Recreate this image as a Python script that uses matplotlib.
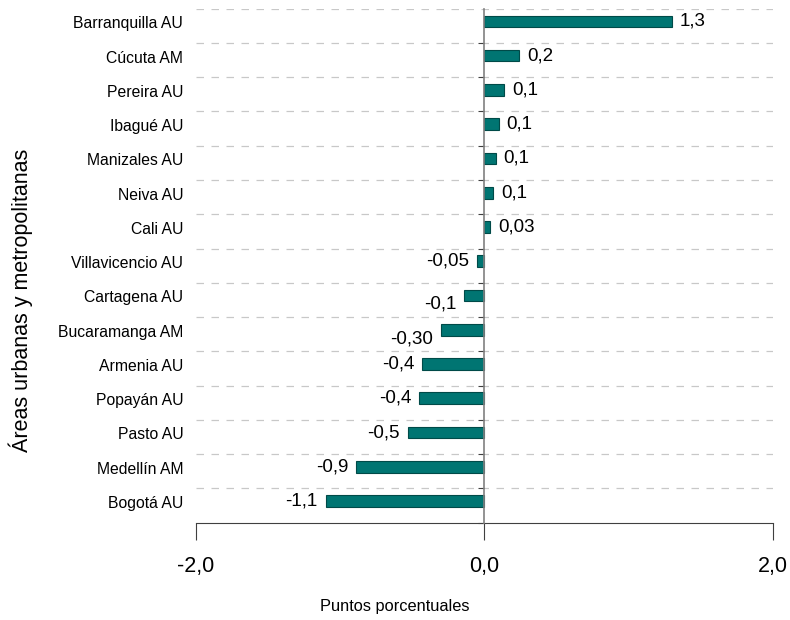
import matplotlib
matplotlib.use('Agg')
import matplotlib.pyplot as plt

plt.rcParams['font.family'] = ['Liberation Sans', 'DejaVu Sans']

areas = ['Barranquilla AU', 'Cúcuta AM', 'Pereira AU', 'Ibagué AU', 'Manizales AU',
         'Neiva AU', 'Cali AU', 'Villavicencio AU', 'Cartagena AU', 'Bucaramanga AM',
         'Armenia AU', 'Popayán AU', 'Pasto AU', 'Medellín AM', 'Bogotá AU']
values = [1.30, 0.24, 0.14, 0.10, 0.08, 0.06, 0.04, -0.05, -0.14, -0.30,
          -0.43, -0.45, -0.53, -0.89, -1.10]
labels = ['1,3', '0,2', '0,1', '0,1', '0,1', '0,1', '0,03', '-0,05', '-0,1', '-0,30',
          '-0,4', '-0,4', '-0,5', '-0,9', '-1,1']
xticks = [-2, 0, 2]
xticklabels = ['-2,0', '0,0', '2,0']

fig = plt.figure(figsize=(7.9, 6.2), dpi=100)
ax = fig.add_axes([0.248, 0.157, 0.73, 0.829])

n = len(areas)
ypos = [i - 0.13 for i in range(n)]
ax.barh(ypos, values, height=0.34, color='#007572', edgecolor='#004a48', linewidth=0.8, zorder=3)

ax.set_xlim(-2, 2)
ax.set_ylim(n - 0.5, -0.5)

# dashed grid at category boundaries
for b in range(n):
    ax.axhline(b - 0.5, color='#c8c8c8', linestyle=(0, (6, 6)), linewidth=0.9, zorder=1)

# zero line with small ticks at the boundaries
ax.spines['left'].set_position(('data', 0))
ax.spines['left'].set_color('#808080')
ax.spines['left'].set_linewidth(1.2)
ax.spines['left'].set_zorder(4)
ax.set_yticks([b + 0.5 for b in range(n)])
ax.set_yticklabels([])
ax.tick_params(axis='y', length=4, color='#404040', direction='out')

ax.spines['top'].set_visible(False)
ax.spines['right'].set_visible(False)
ax.spines['bottom'].set_color('#404040')
ax.set_xticks(xticks)
ax.set_xticklabels(xticklabels, fontsize=15.5)
ax.tick_params(axis='x', length=12, color='#404040', pad=12)

trans = ax.get_yaxis_transform()
for i, name in enumerate(areas):
    ax.text(-0.022, i - 0.06, name, transform=trans, ha='right', va='center', fontsize=11.3)

shift = {8: 0.26, 9: 0.26}
for i, (v, lab) in enumerate(zip(values, labels)):
    y = ypos[i] + shift.get(i, 0)
    if v >= 0:
        ax.text(v + 0.055, y, lab, ha='left', va='center', fontsize=13.5, zorder=5)
    else:
        ax.text(v - 0.055, y, lab, ha='right', va='center', fontsize=13.5, zorder=5)

fig.text(0.026, 0.515, 'Áreas urbanas y metropolitanas', rotation=90, ha='center', va='center', fontsize=15.5)
fig.text(0.5, 0.022, 'Puntos porcentuales', ha='center', va='center', fontsize=11.8)

fig.savefig('out.png', dpi=100)
